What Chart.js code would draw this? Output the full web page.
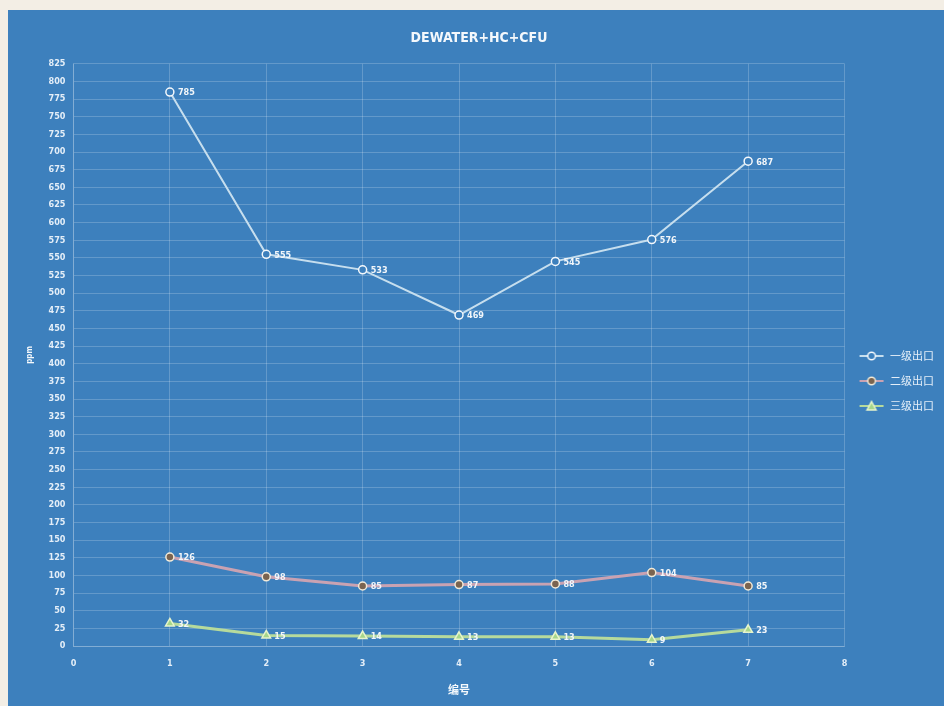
<!DOCTYPE html>
<html>
<head>
<meta charset="utf-8">
<script src="https://cdn.jsdelivr.net/npm/chart.js@4/dist/chart.umd.min.js"></script>
<style>
  html, body { margin: 0; padding: 0; background: #f3eee5; }
  #wrap { position: absolute; left: 8px; top: 10px; width: 936px; height: 696px; background: #3d80bd; }
</style>
</head>
<body>
<div id="wrap"><canvas id="lineChart" width="936" height="696"></canvas></div>
<script>
(() => {
  'use strict'

  // data
  const sampleNo = [1, 2, 3, 4, 5, 6, 7];
  const stage1 = [785, 555, 533, 469, 545, 576, 687];
  const stage2 = [126, 98, 85, 87, 88, 104, 85];
  const stage3 = [32, 15, 14, 13, 13, 9, 23];
  const seriesNames = ['一级出口', '二级出口', '三级出口'];

  const textColor = '#e4eef8';
  const gridColor = 'rgba(255,255,255,0.2)';
  const tickFont = { family: "'Liberation Sans Narrow', 'DejaVu Sans Condensed', sans-serif", size: 9, weight: 'bold' };

  const toPoints = (vals) => vals.map((v, i) => ({ x: sampleNo[i], y: v }));

  // legend marker: short line with the point drawn on top
  const legendIcon = (lineColor, style, fill, stroke) => {
    const c = document.createElement('canvas');
    c.width = 26; c.height = 12;
    const g = c.getContext('2d');
    g.strokeStyle = lineColor; g.lineWidth = 2;
    g.beginPath(); g.moveTo(1, 6); g.lineTo(25, 6); g.stroke();
    g.fillStyle = fill; g.strokeStyle = stroke; g.lineWidth = 1.5;
    g.beginPath();
    if (style === 'triangle') {
      g.moveTo(13, 1.5); g.lineTo(17.5, 10); g.lineTo(8.5, 10); g.closePath();
    } else {
      g.arc(13, 6, 3.8, 0, Math.PI * 2);
    }
    g.fill(); g.stroke();
    return c;
  };

  const s1 = { line: '#c6deee', fill: '#3d80bd', stroke: '#f4f8fc' };
  const s2 = { line: '#c9a2b2', fill: '#7a6450', stroke: '#f2ead8' };
  const s3 = { line: '#b6da9c', fill: '#a6d68a', stroke: '#e6f4cc' };

  // value labels to the right of each point
  const valueLabels = {
    id: 'valueLabels',
    afterDatasetsDraw(chart) {
      const { ctx } = chart;
      ctx.save();
      ctx.font = "bold 9px 'Liberation Sans Narrow', 'DejaVu Sans Condensed', sans-serif";
      ctx.fillStyle = '#f2f6fa';
      ctx.textAlign = 'left';
      ctx.textBaseline = 'middle';
      chart.data.datasets.forEach((ds, di) => {
        chart.getDatasetMeta(di).data.forEach((pt, i) => {
          ctx.fillText(String(ds.data[i].y), pt.x + 8, pt.y + 1);
        });
      });
      ctx.restore();
    }
  };

  const ctx = document.getElementById('lineChart').getContext('2d');

  const config = {
    type: 'line',
    data: {
      datasets: [
        {
          label: seriesNames[0],
          data: toPoints(stage1),
          borderColor: s1.line, borderWidth: 2,
          pointStyle: 'circle', pointRadius: 4,
          pointBackgroundColor: s1.fill, pointBorderColor: s1.stroke, pointBorderWidth: 1.5,
          legendIcon: legendIcon(s1.line, 'circle', s1.fill, s1.stroke)
        },
        {
          label: seriesNames[1],
          data: toPoints(stage2),
          borderColor: s2.line, borderWidth: 3,
          pointStyle: 'circle', pointRadius: 4,
          pointBackgroundColor: s2.fill, pointBorderColor: s2.stroke, pointBorderWidth: 1.5,
          legendIcon: legendIcon(s2.line, 'circle', s2.fill, s2.stroke)
        },
        {
          label: seriesNames[2],
          data: toPoints(stage3),
          borderColor: s3.line, borderWidth: 3,
          pointStyle: 'triangle', pointRadius: 5,
          pointBackgroundColor: s3.fill, pointBorderColor: s3.stroke, pointBorderWidth: 1.5,
          legendIcon: legendIcon(s3.line, 'triangle', s3.fill, s3.stroke)
        }
      ]
    },
    options: {
      responsive: false,
      animation: false,
      layout: { padding: { left: 6, right: 0, top: 0, bottom: 10 } },
      plugins: {
        title: {
          display: true,
          text: 'DEWATER+HC+CFU',
          color: '#f4f8fc',
          font: { family: "'DejaVu Sans Condensed', sans-serif", size: 14, weight: 'bold' },
          padding: { top: 20, bottom: 17 }
        },
        legend: {
          position: 'right',
          title: { display: true, text: ' ', font: { size: 10 }, padding: { top: 44, bottom: 0 } },
          labels: {
            usePointStyle: true,
            pointStyleWidth: 26,
            color: textColor,
            font: { family: "'Noto Sans CJK SC', sans-serif", size: 11 },
            padding: 14,
            generateLabels: (chart) => chart.data.datasets.map((ds, i) => ({
              text: ds.label,
              pointStyle: ds.legendIcon,
              fontColor: textColor,
              datasetIndex: i,
              hidden: false,
              lineWidth: 0
            }))
          }
        },
        tooltip: { enabled: false }
      },
      scales: {
        x: {
          type: 'linear',
          min: 0, max: 8,
          ticks: { stepSize: 1, color: textColor, font: tickFont, padding: 12 },
          grid: { color: gridColor, drawTicks: false },
          border: { color: gridColor },
          title: {
            display: true, text: '编号', color: '#f4f8fc',
            font: { family: "'Noto Sans CJK SC', sans-serif", size: 11, weight: 'bold' },
            padding: { top: 2, bottom: 0 }
          }
        },
        y: {
          min: 0, max: 825,
          ticks: { stepSize: 25, color: textColor, font: tickFont, padding: 8, autoSkip: false },
          grid: { color: gridColor, drawTicks: false },
          border: { color: gridColor },
          title: {
            display: true, text: 'ppm', color: '#f4f8fc',
            font: { family: "'DejaVu Sans Condensed', sans-serif", size: 8, weight: 'bold' },
            padding: { top: 11, bottom: 6 }
          }
        }
      }
    },
    plugins: [valueLabels]
  };

  const lineChart = new Chart(ctx, config);
})()
</script>
</body>
</html>
